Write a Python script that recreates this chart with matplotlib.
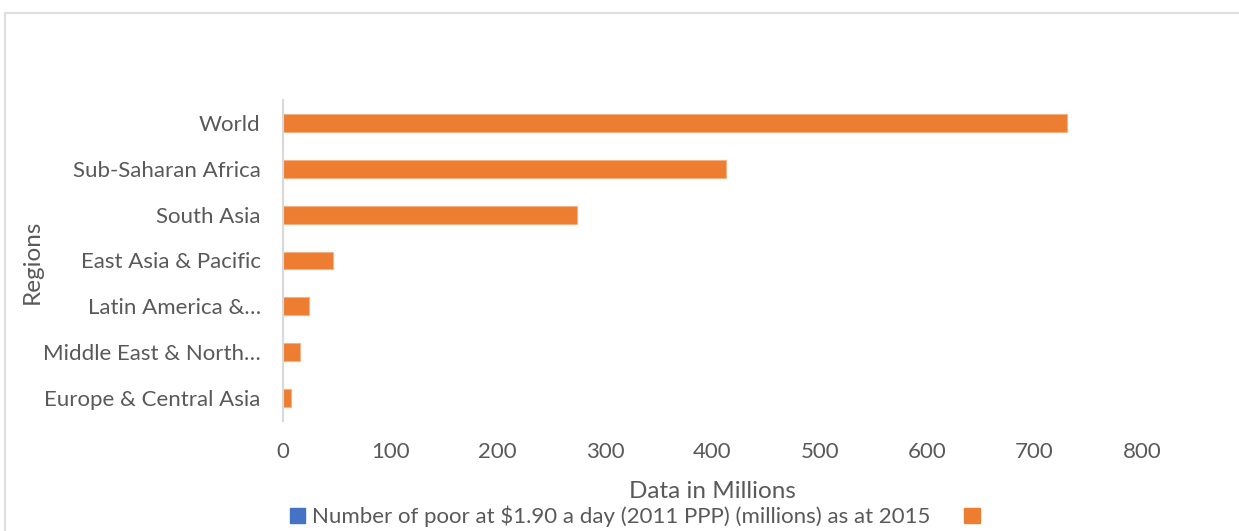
import matplotlib.pyplot as plt
from matplotlib.patches import Patch, Rectangle

# Poverty headcount by region, millions of people
regions = ['World', 'Sub-Saharan Africa', 'South Asia', 'East Asia & Pacific',
           'Latin America &\u2026', 'Middle East & North\u2026', 'Europe & Central Asia']
poor_2015 = [730, 413, 274, 47, 24, 15.5, 7]
series_name = 'Number of poor at $1.90 a day (2011 PPP) (millions) as at 2015'
x_ticks = [0, 100, 200, 300, 400, 500, 600, 700, 800]

plt.rcParams['font.family'] = ['Lato', 'DejaVu Sans']
grey = '#595959'
orange = '#ED7D31'
blue = '#4472C4'

fig = plt.figure(figsize=(12.39, 5.31), dpi=100)
ax = fig.add_axes([283 / 1239, 1 - 421 / 531, (1142 - 283) / 1239, 321 / 531])

ypos = list(range(len(regions)))
ax.barh(ypos, poor_2015, height=0.39, color=orange, edgecolor='#F4B183', linewidth=0.8)
ax.set_yticks(ypos)
ax.set_yticklabels(regions, fontsize=16, color=grey)
ax.set_ylim(6.5, -0.5)
ax.set_xlim(0, 800)
ax.set_xticks(x_ticks)
ax.set_xticklabels([str(t) for t in x_ticks], fontsize=16, color=grey)
ax.tick_params(axis='both', length=0)
ax.tick_params(axis='x', pad=15)
ax.tick_params(axis='y', pad=16)

for side in ['top', 'right', 'bottom']:
    ax.spines[side].set_visible(False)
ax.spines['left'].set_color('#d9d9d9')
ax.spines['left'].set_linewidth(1.5)

fig.text(712 / 1239, 1 - 492 / 531, 'Data in Millions', ha='center', va='center',
         fontsize=17.5, color=grey)
fig.text(32 / 1239, 1 - 262 / 531, 'Regions', ha='center', va='center',
         rotation=90, fontsize=17.5, color=grey)

# light frame around the chart area
fig.patches.append(Rectangle((4.5 / 1239, -0.01), 1.0, 1 - 12.5 / 531 + 0.01,
                             transform=fig.transFigure, fill=False,
                             edgecolor='#d9d9d9', linewidth=1.2))

handles = [Patch(color=blue), Patch(color=orange)]
fig.legend(handles, [series_name + '    ', ''], loc='center',
           bbox_to_anchor=(0.515, 0.027), ncol=2, frameon=False,
           fontsize=16, labelcolor=grey, handlelength=0.7, handleheight=0.7,
           handletextpad=0.3, columnspacing=0.5, borderpad=0)

fig.savefig('out.png', dpi=100)
